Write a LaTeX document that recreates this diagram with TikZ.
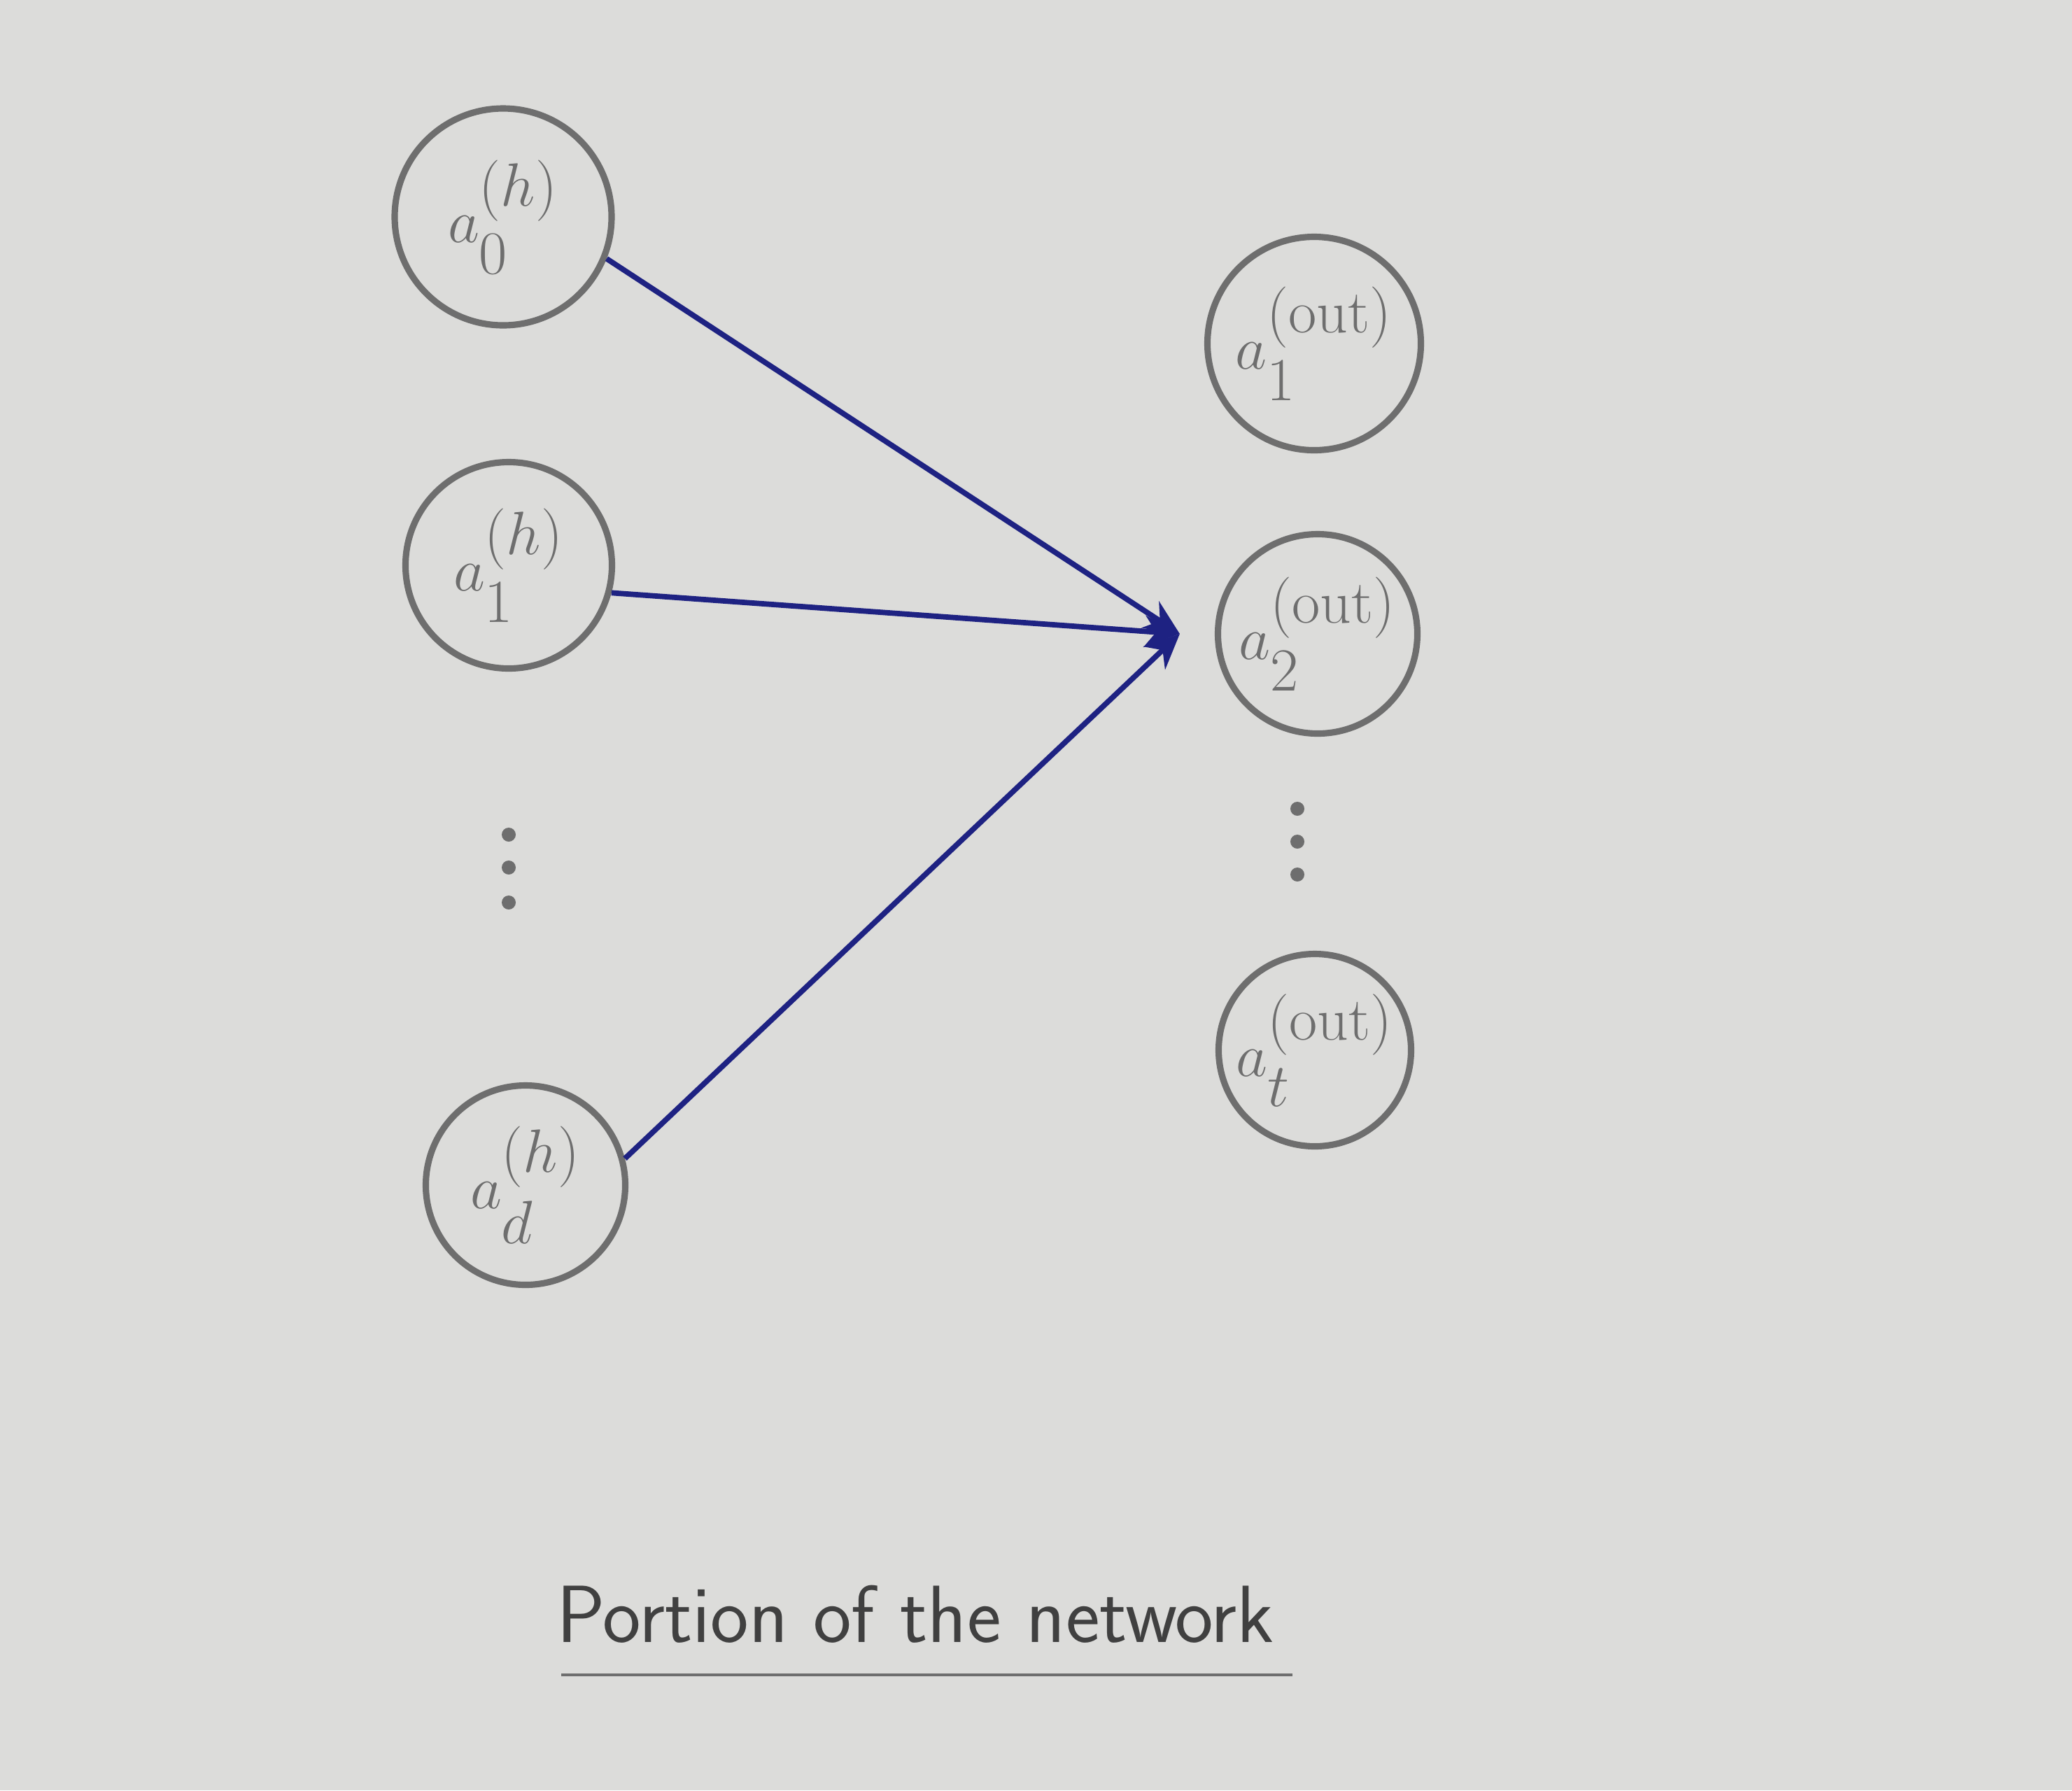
\documentclass[tikz,border=0pt]{standalone}
\usepackage{amsmath,amssymb}
\usetikzlibrary{arrows.meta,positioning}
\definecolor{paper}{HTML}{DCDCDA}
\definecolor{pencil}{HTML}{6E6E6E}
\definecolor{ink}{HTML}{1E2282}
\begin{document}
\begin{tikzpicture}[
		neuron/.style={circle, draw=pencil, line width=2.6pt, inner sep=0pt, text=pencil, font=\fontsize{34}{40}\selectfont},
		wire/.style={ink, line width=2.2pt, -{Stealth[length=5mm,width=4.5mm]}}
	]
			\fill[paper] (0,0) rectangle (29.61,-25.59);
			\useasboundingbox (0,0) rectangle (29.61,-25.59);
			
			% hidden layer
			\node[neuron, minimum size=3.1cm] (h0) at (7.19,-3.10) {$a_0^{(h)}$};
			\node[neuron, minimum size=2.95cm] (h1) at (7.27,-8.08) {$a_1^{(h)}$};
			\node[neuron, minimum size=2.85cm] (hd) at (7.51,-16.94) {$a_d^{(h)}$};
			\foreach \y in {-11.93,-12.40,-12.90}
				\fill[pencil] (7.27,\y) circle (0.1);
			
			% output layer
			\node[neuron, minimum size=3.05cm] (o1) at (18.78,-4.91) {$a_1^{(\mathrm{out})}$};
			\node[neuron, minimum size=2.85cm] (o2) at (18.83,-9.06) {$a_2^{(\mathrm{out})}$};
			\node[neuron, minimum size=2.75cm] (ot) at (18.79,-15.01) {$a_t^{(\mathrm{out})}$};
			\foreach \y in {-11.56,-12.03,-12.50}
				\fill[pencil] (18.54,\y) circle (0.1);
			
			\coordinate[left=0.5cm of o2.west] (tip);
			\draw[wire] (h0.-22) -- (tip);
			\draw[wire] (h1.-15) -- (tip);
			\draw[wire] (hd.15) -- (tip);
			
			\node[text=black!75, font=\sffamily\fontsize{33}{40}\selectfont] (title) at (13.08,-23.07) {Portion of the network};
			\draw[pencil, line width=1.2pt] (8.02,-23.94) -- (18.47,-23.94);
		\end{tikzpicture}
\end{document}
